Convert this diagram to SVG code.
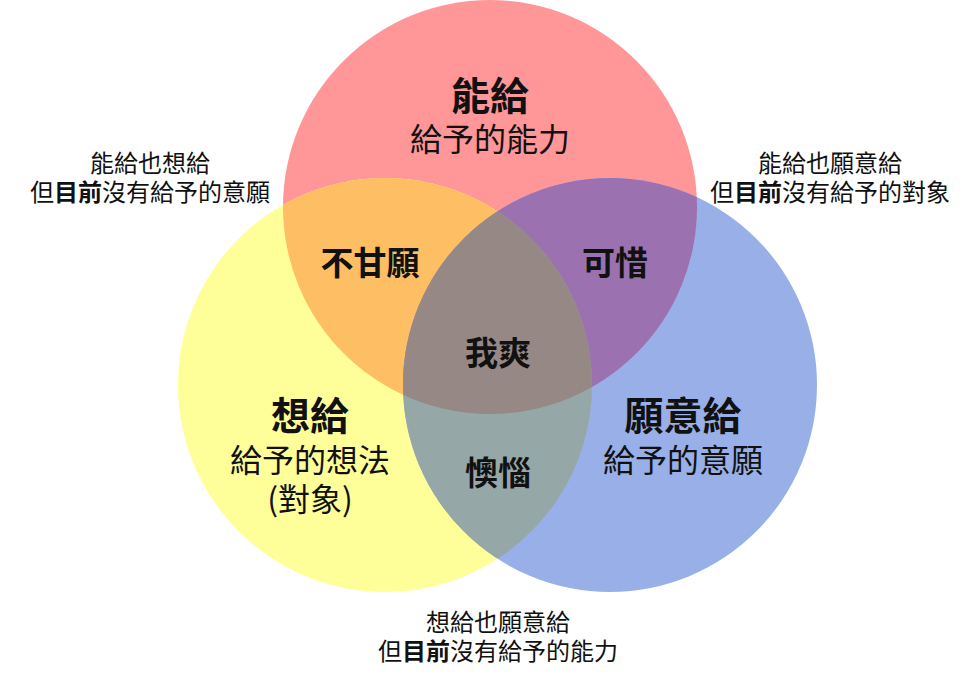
<svg xmlns="http://www.w3.org/2000/svg" width="979" height="681" viewBox="0 0 979 681">
<style>
text{font-family:"Noto Sans CJK TC","Noto Sans CJK SC",sans-serif;fill:#111;text-anchor:middle}
.t{font-size:39px;font-weight:bold}
.s{font-size:32px}
.i{font-size:33px;font-weight:bold}
.n{font-size:24px}
.b{font-weight:bold}
</style>
<defs>
<clipPath id="cr"><circle cx="490" cy="207" r="207"/></clipPath>
<clipPath id="cy"><circle cx="385" cy="385" r="207"/></clipPath>
<clipPath id="cb"><circle cx="610" cy="385" r="207"/></clipPath>
</defs>
<rect width="979" height="681" fill="#fff"/>
<g id="can-give"><circle cx="490" cy="207" r="207" fill="#FF9698"/></g>
<g id="want-give"><circle cx="385" cy="385" r="207" fill="#FFFF99"/></g>
<g id="willing-give"><circle cx="610" cy="385" r="207" fill="#98AFE8"/></g>
<g id="unwilling"><circle cx="385" cy="385" r="207" fill="#FEBE64" clip-path="url(#cr)"/></g>
<g id="pity"><circle cx="610" cy="385" r="207" fill="#9B71B0" clip-path="url(#cr)"/></g>
<g id="annoyed"><circle cx="610" cy="385" r="207" fill="#95A8A7" clip-path="url(#cy)"/></g>
<g id="great"><g clip-path="url(#cr)"><circle cx="610" cy="385" r="207" fill="#968885" clip-path="url(#cy)"/></g></g>
<g id="labels">
<text class="t" x="490" y="110">能給</text>
<text class="s" x="490" y="151">給予的能力</text>
<text class="t" x="310" y="430">想給</text>
<text class="s" x="310" y="472">給予的想法</text>
<text class="s" x="310" y="511">(對象)</text>
<text class="t" x="683" y="430">願意給</text>
<text class="s" x="683" y="472">給予的意願</text>
<text class="i" x="370" y="275">不甘願</text>
<text class="i" x="615" y="275">可惜</text>
<text class="i" x="498" y="365">我爽</text>
<text class="i" x="498" y="485">懊惱</text>
</g>
<g id="note-left">
<text class="n" x="150" y="172">能給也想給</text>
<text class="n" x="150" y="201">但<tspan class="b">目前</tspan>沒有給予的意願</text>
</g>
<g id="note-right">
<text class="n" x="830" y="172">能給也願意給</text>
<text class="n" x="830" y="201">但<tspan class="b">目前</tspan>沒有給予的對象</text>
</g>
<g id="note-bottom">
<text class="n" x="498" y="631">想給也願意給</text>
<text class="n" x="498" y="660">但<tspan class="b">目前</tspan>沒有給予的能力</text>
</g>
</svg>
